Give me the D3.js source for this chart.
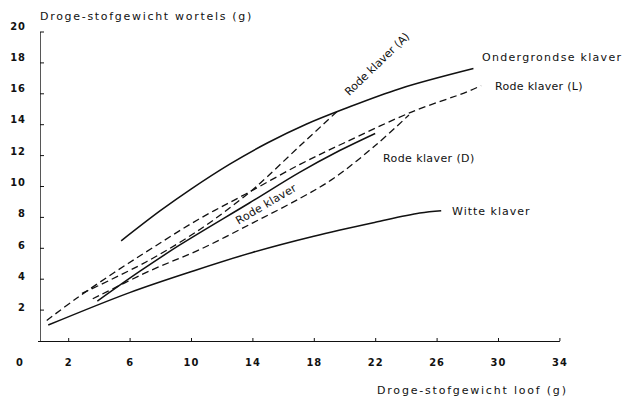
<!DOCTYPE html>
<html>
<head>
<meta charset="utf-8">
<script src="https://cdn.jsdelivr.net/npm/d3@7"></script>
<style>
body { margin: 0; background: #fff; }
svg { display: block; }
text { font-family: "DejaVu Sans", sans-serif; fill: #111; }
.tick text, .zero { font-family: "DejaVu Sans Condensed", "DejaVu Sans", sans-serif; font-weight: bold; font-size: 11px; letter-spacing: 1px; }
</style>
</head>
<body>
<svg width="625" height="398"></svg>
<script>
// values: [loof (g), wortels (g)]
let ondergrondse = [[5.45, 6.45], [8, 8.4], [10, 9.8], [12.5, 11.4], [15, 12.8], [17.5, 14.0], [20, 15.0], [23.6, 16.3], [28.4, 17.6]];
let rodeKlaver = [[3.9, 2.55], [6.7, 4.5], [9.3, 6.2], [13.8, 8.9], [17.1, 10.9], [19.5, 12.2], [22, 13.4]];
let rodeA = [[2.9, 3.05], [7.1, 5.1], [10.6, 7.2], [13.2, 9.1], [14.3, 10.0], [17.1, 12.6], [19.6, 14.9]];
let rodeL = [[0.6, 1.3], [2.5, 2.7], [5, 4.4], [7.5, 6.0], [10.5, 7.85], [13.6, 9.5], [17.1, 11.4], [20, 12.8], [24.4, 14.8], [28, 16.1], [28.9, 16.5]];
let rodeD = [[3.6, 2.7], [7.3, 4.5], [10.6, 5.9], [14, 7.6], [17.1, 9.2], [19.3, 10.5], [22.1, 12.7], [24.2, 14.6]];
let witte = [[0.7, 1.0], [6, 3.1], [10.3, 4.55], [14, 5.7], [18, 6.75], [22, 7.65], [24.9, 8.25], [26.3, 8.4]];

let xTicks = [2, 6, 10, 14, 18, 22, 26, 30, 34];
let yTicks = [2, 4, 6, 8, 10, 12, 14, 16, 18, 20];

let yTitle = "Droge-stofgewicht wortels (g)";
let xTitle = "Droge-stofgewicht loof (g)";

var svg = d3.select("svg");

let x = d3.scaleLinear().domain([0, 34]).range([37.5, 559.4]);
let y = d3.scaleLinear().domain([0, 20]).range([340.5, 31.5]);

// axes
let yAxis = d3.axisLeft(y).tickValues(yTicks).tickSizeInner(-4).tickSizeOuter(0).tickPadding(14);
let gy = svg.append("g").attr("transform", "translate(40,0)").call(yAxis);
gy.select(".domain").attr("stroke", "#444").attr("stroke-width", 0.9);
gy.selectAll(".tick line").attr("stroke", "#111");
gy.selectAll(".tick text").attr("y", d => -2 - d * 0.2);

let xAxis = d3.axisBottom(x).tickValues(xTicks).tickSizeInner(-3).tickSizeOuter(0).tickPadding(17);
let gx = svg.append("g").attr("transform", "translate(0,341)").call(xAxis);
gx.select(".domain").attr("stroke", "#111").attr("stroke-width", 1);
gx.selectAll(".tick line").attr("stroke", "#111");

svg.append("text").attr("class", "zero").attr("x", 20).attr("y", 366)
    .attr("text-anchor", "middle").text("0");

svg.append("text").attr("x", 40).attr("y", 20)
    .style("font-size", "11px").style("letter-spacing", "1.7px").text(yTitle);
svg.append("text").attr("x", 377).attr("y", 394)
    .style("font-size", "11px").style("letter-spacing", "1.8px").text(xTitle);

// curves
let line = d3.line()
    .x(d => x(d[0]))
    .y(d => y(d[1]))
    .curve(d3.curveCatmullRom.alpha(0.5));

let series = [
    {pts: ondergrondse, dash: null},
    {pts: rodeKlaver, dash: null},
    {pts: witte, dash: null},
    {pts: rodeA, dash: "7,4"},
    {pts: rodeL, dash: "7,4"},
    {pts: rodeD, dash: "7,4"}
];

svg.append("g").selectAll("path")
    .data(series)
    .enter().append("path")
    .attr("d", d => line(d.pts))
    .attr("fill", "none")
    .attr("stroke", "#111")
    .attr("stroke-width", d => d.dash ? 1.3 : 1.5)
    .attr("stroke-dasharray", d => d.dash);

// curve labels
let labels = [
    {text: "Ondergrondse klaver", x: 482, y: 61, ls: 1.3, rot: 0},
    {text: "Rode klaver (L)", x: 495, y: 90, ls: 0.3, rot: 0},
    {text: "Rode klaver (D)", x: 383, y: 161.5, ls: 0.4, rot: 0},
    {text: "Witte klaver", x: 452, y: 215, ls: 1.0, rot: 0},
    {text: "Rode klaver (A)", x: 377, y: 64, ls: 0, rot: -44, mid: true},
    {text: "Rode klaver", x: 266, y: 204, ls: 0.3, rot: -30.5, mid: true}
];

svg.append("g").selectAll("text")
    .data(labels)
    .enter().append("text")
    .attr("transform", d => "translate(" + d.x + "," + d.y + ") rotate(" + d.rot + ")")
    .attr("text-anchor", d => d.mid ? "middle" : "start")
    .attr("dy", d => d.mid ? "0.35em" : 0)
    .style("font-size", "11px")
    .style("letter-spacing", d => d.ls + "px")
    .text(d => d.text);
</script>
</body>
</html>
